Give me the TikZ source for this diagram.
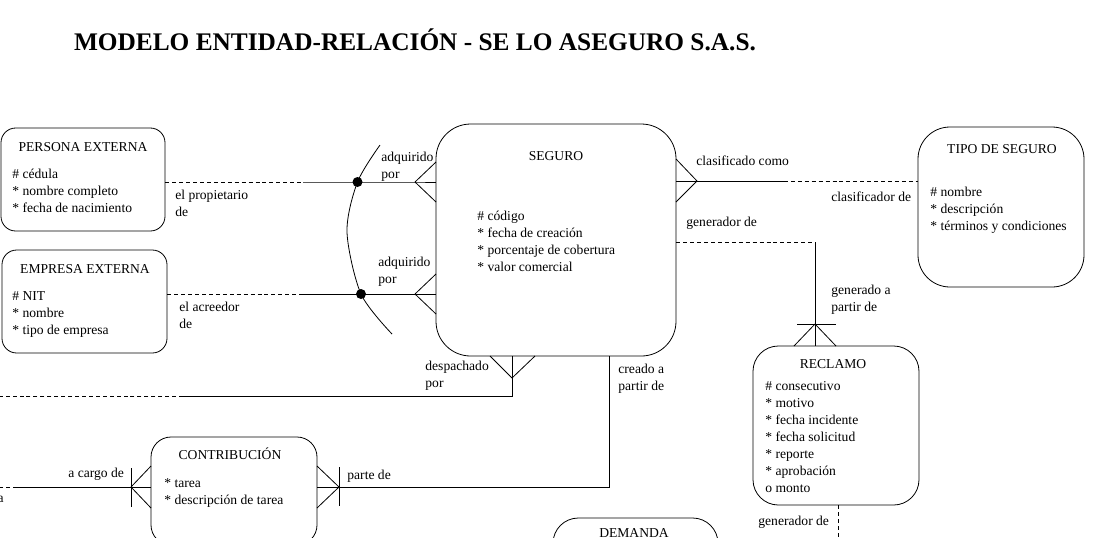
\documentclass[tikz,border=0pt]{standalone}
\usepackage{fontspec}
\setmainfont{Liberation Serif}
\begin{document}
\begin{tikzpicture}[x=0.75pt,y=-0.75pt,line width=0.6pt,
  entity/.style={draw,rectangle,inner sep=0pt},
  ename/.style={font=\fontsize{10.2}{12.75}\selectfont,anchor=base,inner sep=0pt},
  attrs/.style={font=\fontsize{10.2}{12.75}\selectfont,align=left,anchor=north west,inner sep=0pt,execute at begin node=\strut},
  rel/.style={font=\fontsize{10.2}{12.75}\selectfont,align=left,anchor=north west,inner sep=0pt,execute at begin node=\strut},
  rel1/.style={font=\fontsize{10.2}{12.75}\selectfont,anchor=base west,inner sep=0pt},
  dashline/.style={dash pattern=on 3pt off 2.2pt},
  dot/.style={circle,fill,inner sep=0pt,minimum size=7.5pt}]
\useasboundingbox (0,0) rectangle (1096,537);
\node[font=\bfseries\fontsize{19}{23}\selectfont,anchor=base] (titulo) at (415,50) {MODELO ENTIDAD-RELACIÓN - SE LO ASEGURO S.A.S.};
% entidades
\node[entity,minimum width=123pt,minimum height=77.25pt,rounded corners=11pt] (persona) at (83,179.5) {};
\node[ename] (personaT) at (83,151) {PERSONA EXTERNA};
\node[attrs] (personaA) at (12,169) {\# cédula\\* nombre completo\\* fecha de nacimiento};
\node[entity,minimum width=123.75pt,minimum height=77.25pt,rounded corners=11pt] (empresa) at (84.5,301.5) {};
\node[ename] (empresaT) at (85,273) {EMPRESA EXTERNA};
\node[attrs] (empresaA) at (12,291) {\# NIT\\* nombre\\* tipo de empresa};
\node[entity,minimum width=180pt,minimum height=174pt,rounded corners=26pt] (seguro) at (556,240) {};
\node[ename] (seguroT) at (556,160) {SEGURO};
\node[attrs] (seguroA) at (477,210.5) {\# código\\* fecha de creación\\* porcentaje de cobertura\\* valor comercial};
\node[entity,minimum width=124.5pt,minimum height=120pt,rounded corners=24pt] (tipo) at (1001,207) {};
\node[ename] (tipoT) at (1002,153) {TIPO DE SEGURO};
\node[attrs] (tipoA) at (930,187) {\# nombre\\* descripción\\* términos y condiciones};
\node[entity,minimum width=124.5pt,minimum height=119.25pt,rounded corners=19pt] (reclamo) at (836,425.5) {};
\node[ename] (reclamoT) at (833,368) {RECLAMO};
\node[attrs] (reclamoA) at (765,381) {\# consecutivo\\* motivo\\* fecha incidente\\* fecha solicitud\\* reporte\\* aprobación\\o monto};
\node[entity,minimum width=124.5pt,minimum height=81pt,rounded corners=15pt] (contrib) at (234,491) {};
\node[ename] (contribT) at (230,459) {CONTRIBUCIÓN};
\node[attrs] (contribA) at (164,478.5) {* tarea\\* descripción de tarea};
\node[entity,minimum width=123.75pt,minimum height=78pt,rounded corners=19pt] (demanda) at (635.5,570) {};
\node[ename] (demandaT) at (634,537) {DEMANDA};
% persona - seguro
\coordinate (pieP) at (415,182);
\coordinate (cortP) at (303,182);
\draw[dashline] (persona.east |- pieP) -- (cortP);
\draw (cortP) -- (pieP) -- (seguro.west |- pieP);
\draw (pieP) -- +(21,-20) (pieP) -- +(21,20);
% empresa - seguro
\coordinate (pieE) at (415,294);
\coordinate (cortE) at (303,294);
\draw[dashline] (empresa.east |- pieE) -- (cortE);
\draw (cortE) -- (pieE) -- (seguro.west |- pieE);
\draw (pieE) -- +(21,-20) (pieE) -- +(21,20);
% arco exclusivo
\draw plot[smooth] coordinates {(380,145) (357.5,182) (347,232) (361,294) (392,334)};
\node[dot] (puntoP) at (357.5,182) {};
\node[dot] (puntoE) at (361,294) {};
% seguro - tipo
\coordinate (pieT) at (697,181);
\coordinate (cortT) at (784,181);
\draw (seguro.east |- pieT) -- (cortT);
\draw[dashline] (cortT) -- (tipo.west |- pieT);
\draw (pieT) -- +(-21,-22) (pieT) -- +(-21,21);
% seguro - reclamo
\coordinate (esqR) at (815,242);
\coordinate (pieR) at (815,324);
\draw[dashline] (seguro.east |- esqR) -- (esqR);
\draw (esqR) -- (reclamo.north -| esqR);
\draw (pieR) -- +(-21,22) (pieR) -- +(21,22);
\draw (pieR) +(-18,0) -- +(21,0);
% despachado
\coordinate (pieD) at (512,378);
\coordinate (esqD) at (512,396);
\coordinate (cortD) at (183,396);
\coordinate (finD) at (0,396);
\draw (seguro.south -| pieD) -- (esqD) -- (cortD);
\draw[dashline] (cortD) -- (finD);
\draw (pieD) -- +(-22,-22) (pieD) -- +(23,-22);
% creado a partir de
\coordinate (esqC) at (609,487);
\coordinate (pieC) at (339,487);
\draw (seguro.south -| esqC) -- (esqC) -- (contrib.east |- esqC);
\draw (pieC) -- +(-22,-21) (pieC) -- +(-22,21);
\draw (pieC) +(0,-20) -- +(0,19);
% a cargo de
\coordinate (pieA) at (131,487);
\coordinate (cortA) at (17,487);
\coordinate (finA) at (0,487);
\draw (contrib.west |- pieA) -- (cortA);
\draw[dashline] (cortA) -- (finA);
\draw (pieA) -- +(20,-21) (pieA) -- +(20,21);
\draw (pieA) +(0,-19) -- +(0,20);
% reclamo - abajo
\coordinate (finR) at (838,537);
\draw[dashline] (reclamo.south -| finR) -- (finR);
% etiquetas
\node[rel] (lProp) at (175,190) {el propietario\\de};
\node[rel] (lAcre) at (179,302) {el acreedor\\de};
\node[rel] (lAdq1) at (381,151.5) {adquirido\\por};
\node[rel] (lAdq2) at (378,257) {adquirido\\por};
\node[rel] (lDesp) at (425,360.5) {despachado\\por};
\node[rel] (lCrea) at (618,363.5) {creado a\\partir de};
\node[rel] (lGena) at (831,284.5) {generado a\\partir de};
\node[rel1] (lClas) at (696,165) {clasificado como};
\node[rel1] (lClsr) at (831,201) {clasificador de};
\node[rel1] (lGen1) at (686,226) {generador de};
\node[rel1] (lCarg) at (68,477) {a cargo de};
\node[rel1] (lPart) at (347,479) {parte de};
\node[rel1] (lGen2) at (758,525) {generador de};
\node[rel1,anchor=base east] (lCort) at (4,502) {a};
\end{tikzpicture}
\end{document}
